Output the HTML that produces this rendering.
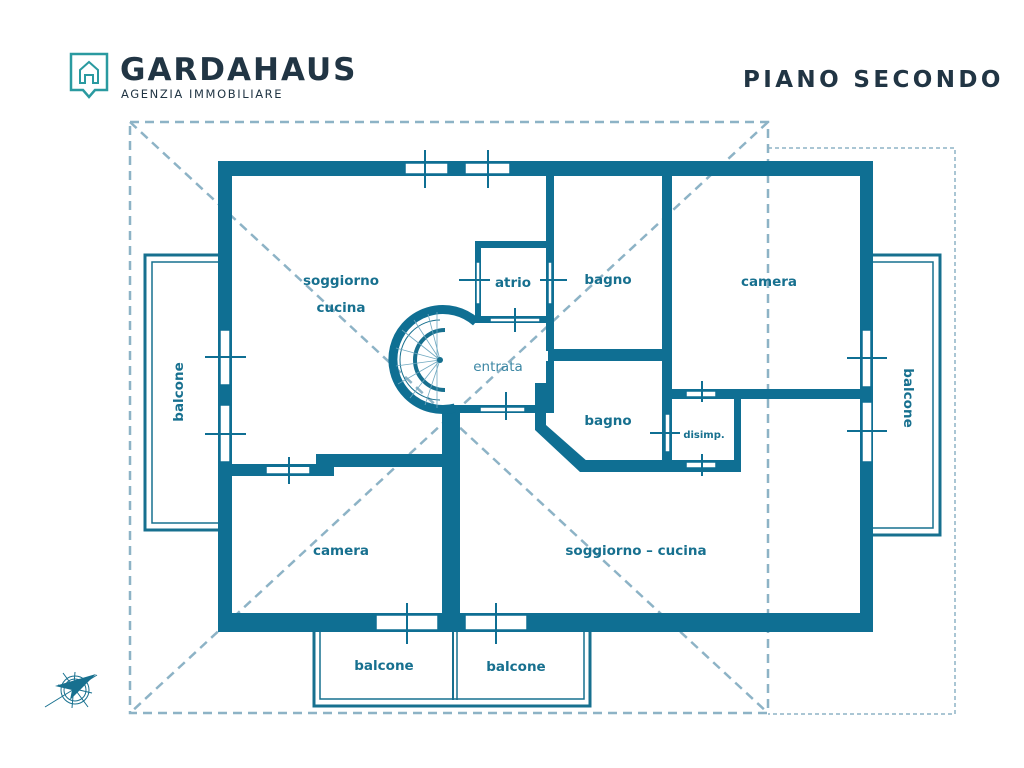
<!DOCTYPE html>
<html><head><meta charset="utf-8"><style>
html,body{margin:0;padding:0;background:#fff;width:1024px;height:768px;overflow:hidden}
svg{display:block}
text{font-family:"DejaVu Sans","Liberation Sans",sans-serif;fill:#17708f}
</style></head><body>
<svg width="1024" height="768" viewBox="0 0 1024 768">
<!-- logo -->
<g fill="none" stroke="#2a9aa0" stroke-width="2.5">
<path d="M71 54 H107 V90 H95 L89 97 L83 90 H71 Z"/>
<path d="M80 83 V70 L89 62 L98 70 V83 H93 V75 H85 V83 Z" stroke-width="2"/>
</g>
<text x="120" y="80" style="font-family:'DejaVu Sans',sans-serif;font-size:31px;letter-spacing:2px;fill:#213544;font-weight:bold">GARDAHAUS</text>
<text x="121" y="98" style="font-size:11.5px;letter-spacing:1.6px;fill:#213544">AGENZIA IMMOBILIARE</text>
<text x="743" y="87" style="font-size:23px;letter-spacing:3.4px;fill:#213544;font-weight:bold">PIANO SECONDO</text>

<!-- dashed roof -->
<g fill="none" stroke="#8db3c6" stroke-width="2.5" stroke-dasharray="9,6">
<rect x="130" y="122" width="638" height="591"/>
<line x1="130" y1="122" x2="768" y2="713"/>
<line x1="768" y1="122" x2="130" y2="713"/>
</g>
<g fill="none" stroke="#8db3c6" stroke-width="1.5" stroke-dasharray="4,3">
<polyline points="768,148 955,148 955,714 768,714"/>
</g>

<!-- balconies -->
<g fill="none" stroke="#17708f">
<path d="M218 255 H145 V530 H218" stroke-width="3"/>
<path d="M218 262 H152 V523 H218" stroke-width="1.5"/>
<path d="M873 255 H940 V535 H873" stroke-width="3"/>
<path d="M873 262 H933 V528 H873" stroke-width="1.5"/>
<path d="M314 632 V706 H590 V632" stroke-width="3"/>
<path d="M320 632 V699 H584 V632" stroke-width="1.5"/>
<line x1="453" y1="632" x2="453" y2="700" stroke-width="2"/>
<line x1="457" y1="632" x2="457" y2="700" stroke-width="1.5"/>
</g>

<!-- walls -->
<g fill="#0f6f93">
<rect x="218" y="161" width="655" height="15"/>
<rect x="218" y="161" width="14" height="471"/>
<rect x="218" y="613" width="655" height="19"/>
<rect x="860" y="161" width="13" height="471"/>
<rect x="546" y="176" width="8" height="175"/>
<rect x="662" y="176" width="10" height="290"/>
<rect x="548" y="349" width="124" height="12"/>
<rect x="672" y="389" width="201" height="10"/>
<rect x="734" y="389" width="7" height="83"/>
<rect x="580" y="460" width="161" height="12"/>
<polygon points="535,383 546,383 546,425 588,462 580,472 535,430"/>
<rect x="475" y="241" width="79" height="7"/>
<rect x="475" y="241" width="6" height="82"/>
<rect x="475" y="316" width="79" height="7"/>
<rect x="546" y="361" width="8" height="52"/>
<rect x="452" y="405" width="102" height="8"/>
<rect x="442" y="410" width="18" height="222"/>
<rect x="316" y="454" width="144" height="13"/>
<rect x="218" y="464" width="116" height="12"/>
</g>
<path d="M476 322 A50 50 0 1 0 455 408" fill="none" stroke="#0f6f93" stroke-width="9"/>
<!-- stair -->
<g fill="none" stroke="#17708f">
<path d="M445 330 A30 30 0 1 0 445 390" stroke-width="4"/>
<path d="M440 320 A40 40 0 1 0 440 400" stroke-width="1"/>
<g stroke-width="0.8" stroke="#6fa8c0">
<line x1="440" y1="360" x2="402" y2="330"/><line x1="440" y1="360" x2="396" y2="348"/>
<line x1="440" y1="360" x2="396" y2="366"/><line x1="440" y1="360" x2="398" y2="384"/>
<line x1="440" y1="360" x2="410" y2="398"/><line x1="440" y1="360" x2="425" y2="405"/>
<line x1="440" y1="360" x2="414" y2="320"/><line x1="440" y1="360" x2="428" y2="314"/>
<line x1="437" y1="312" x2="437" y2="408"/>
</g>
</g>
<circle cx="440" cy="360" r="3" fill="#17708f"/>

<!-- windows -->
<g fill="#fff" stroke="#0f6f93" stroke-width="1.5">
<rect x="405" y="163" width="43" height="11"/>
<rect x="465" y="163" width="45" height="11"/>
<rect x="220" y="330" width="10" height="55"/>
<rect x="220" y="405" width="10" height="57"/>
<rect x="862" y="330" width="9" height="57"/>
<rect x="862" y="402" width="10" height="60"/>
<rect x="376" y="615" width="62" height="15"/>
<rect x="465" y="615" width="62" height="15"/>
<rect x="266" y="466" width="44" height="8"/>
<rect x="476" y="262" width="4" height="42"/>
<rect x="548" y="262" width="4" height="42"/>
<rect x="490" y="318" width="50" height="4"/>
<rect x="480" y="407" width="45" height="5"/>
<rect x="665" y="414" width="5" height="38"/>
<rect x="686" y="391" width="30" height="6"/>
<rect x="686" y="462" width="30" height="6"/>
</g>
<g stroke="#0f6f93" stroke-width="2" fill="none">
<path d="M425 150 V188 M488 150 V188"/>
<path d="M205 357 H246 M205 434 H246"/>
<path d="M847 358 H887 M847 431 H887"/>
<path d="M407 603 V644 M496 603 V644"/>
<path d="M289 457 V484 M265 466 H310"/>
<path d="M459 280 H490 M540 280 H567"/>
<path d="M515 308 V332"/>
<path d="M506 392 V420"/>
<path d="M650 433 H680"/>
<path d="M702 381 V402 M702 454 V476"/>
</g>

<!-- compass -->
<g stroke="#17708f" fill="none" stroke-width="1">
<circle cx="75" cy="690" r="14"/><circle cx="75" cy="690" r="11"/>
<line x1="45" y1="707" x2="97" y2="675"/>
<line x1="63" y1="673" x2="88" y2="707"/>
<line x1="58" y1="685" x2="92" y2="693"/>
<line x1="75" y1="672" x2="72" y2="708"/>
</g>
<polygon points="96,674 55,686 72,690 70,700" fill="#17708f"/>

<!-- labels -->
<g style="font-size:13.5px;font-weight:bold" text-anchor="middle">
<text x="341" y="285">soggiorno</text>
<text x="341" y="312">cucina</text>
<text x="513" y="287">atrio</text>
<text x="608" y="284">bagno</text>
<text x="769" y="286">camera</text>
<text x="498" y="371" style="font-weight:normal;fill:#3c87a4">entrata</text>
<text x="608" y="425">bagno</text>
<text x="704" y="438" style="font-size:10px">disimp.</text>
<text x="341" y="555">camera</text>
<text x="636" y="555">soggiorno – cucina</text>
<text x="384" y="670">balcone</text>
<text x="516" y="671">balcone</text>
<text transform="translate(183,392) rotate(-90)">balcone</text>
<text transform="translate(904,398) rotate(90)">balcone</text>
</g>
</svg>
</body></html>
